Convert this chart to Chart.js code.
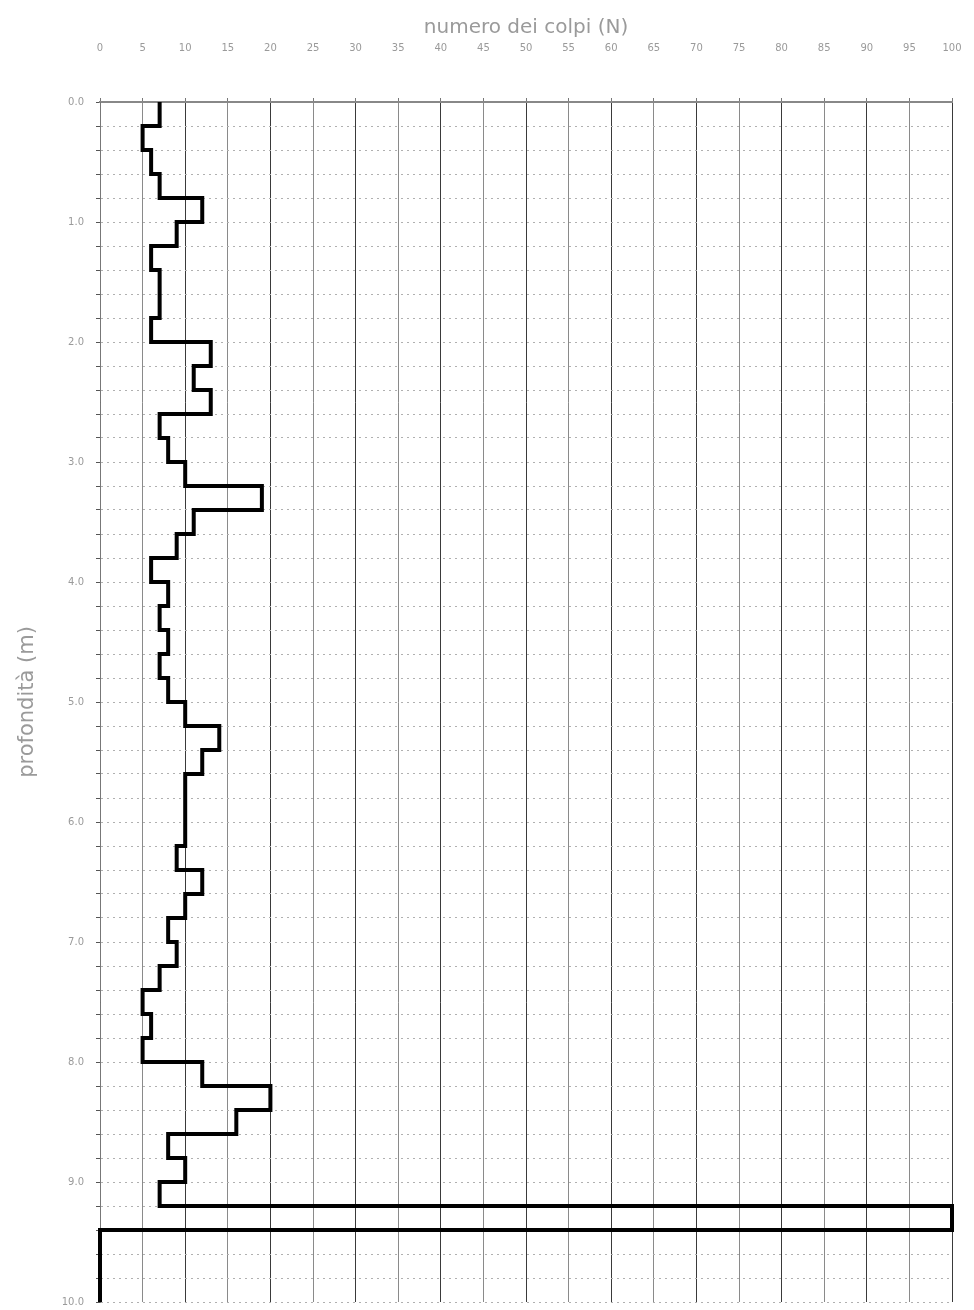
<!DOCTYPE html>
<html>
<head>
<meta charset="utf-8">
<title>numero dei colpi (N)</title>
<script src="https://cdn.jsdelivr.net/npm/chart.js@4/dist/chart.umd.min.js"></script>
<style>
  html, body { margin: 0; padding: 0; background: #fff; }
  canvas { display: block; }
</style>
</head>
<body>
<canvas id="penetro-chart" width="974" height="1310"></canvas>
<script>
// depth boundaries (m), every 0.2 m
const depths = [
    0.0, 0.2, 0.4, 0.6, 0.8, 1.0, 1.2, 1.4, 1.6, 1.8,
    2.0, 2.2, 2.4, 2.6, 2.8, 3.0, 3.2, 3.4, 3.6, 3.8,
    4.0, 4.2, 4.4, 4.6, 4.8, 5.0, 5.2, 5.4, 5.6, 5.8,
    6.0, 6.2, 6.4, 6.6, 6.8, 7.0, 7.2, 7.4, 7.6, 7.8,
    8.0, 8.2, 8.4, 8.6, 8.8, 9.0, 9.2, 9.4, 10.0
];

// blow count for each interval (depths[i] -> depths[i+1])
const blows = [
    7, 5, 6, 7, 12, 9, 6, 7, 7, 6,
    13, 11, 13, 7, 8, 10, 19, 11, 9, 6,
    8, 7, 8, 7, 8, 10, 14, 12, 10, 10,
    10, 9, 12, 10, 8, 9, 7, 5, 6, 5,
    12, 20, 16, 8, 10, 7, 100, 0
];

const xTitle = "numero dei colpi (N)";
const yTitle = "profondità (m)";

const textColor = "#9a9a9a";
const fontFamily = "'DejaVu Sans', sans-serif";

// step trace: each interval is a vertical segment at its blow count
const trace = [];
blows.forEach((n, i) => {
    trace.push({ x: n, y: depths[i] });
    trace.push({ x: n, y: depths[i + 1] });
});

const ctx = document.getElementById("penetro-chart");

new Chart(ctx, {
    type: "scatter",
    data: {
        datasets: [{
            label: "N",
            data: trace,
            showLine: true,
            borderColor: "#000",
            borderWidth: 4,
            pointRadius: 0,
            borderJoinStyle: "miter",
            clip: false
        }]
    },
    options: {
        responsive: false,
        animation: false,
        devicePixelRatio: 1,
        layout: { padding: { top: 0, right: 22, bottom: 8, left: 0 } },
        plugins: {
            legend: { display: false },
            tooltip: { enabled: false }
        },
        scales: {
            x: {
                type: "linear",
                position: "top",
                min: 0,
                max: 100,
                afterFit: scale => {
                    scale.height = 102;
                    scale.paddingLeft = 0;
                    scale.paddingRight = 0;
                },
                ticks: {
                    stepSize: 5,
                    color: textColor,
                    padding: 44,
                    maxRotation: 0,
                    autoSkip: false,
                    font: { family: fontFamily, size: 10 }
                },
                grid: {
                    color: c => (c.tick && c.tick.value % 10 === 0) ? "#3a3a3a" : "#8a8a8a",
                    lineWidth: 1,
                    tickLength: 4,
                    tickColor: "#777"
                },
                border: { display: true, color: "#888", width: 2 },
                title: {
                    display: true,
                    text: xTitle,
                    color: textColor,
                    padding: { top: 16, bottom: 0 },
                    font: { family: fontFamily, size: 20 }
                }
            },
            y: {
                type: "linear",
                reverse: true,
                min: 0,
                max: 10,
                afterFit: scale => {
                    scale.width = 100;
                    scale.paddingTop = 0;
                    scale.paddingBottom = 0;
                },
                ticks: {
                    stepSize: 0.2,
                    autoSkip: false,
                    color: textColor,
                    padding: 12,
                    font: { family: fontFamily, size: 10 },
                    callback: v => Math.abs(v - Math.round(v)) < 1e-6 ? Number(v).toFixed(1) : ""
                },
                grid: {
                    color: "#b0b0b0",
                    lineWidth: 1,
                    tickLength: 4,
                    tickColor: "#555"
                },
                border: { display: true, color: "#777", width: 1, dash: [2, 4] },
                title: {
                    display: true,
                    text: yTitle,
                    color: textColor,
                    padding: { top: 15, bottom: 0 },
                    font: { family: fontFamily, size: 21 }
                }
            }
        }
    }
});
</script>
</body>
</html>
